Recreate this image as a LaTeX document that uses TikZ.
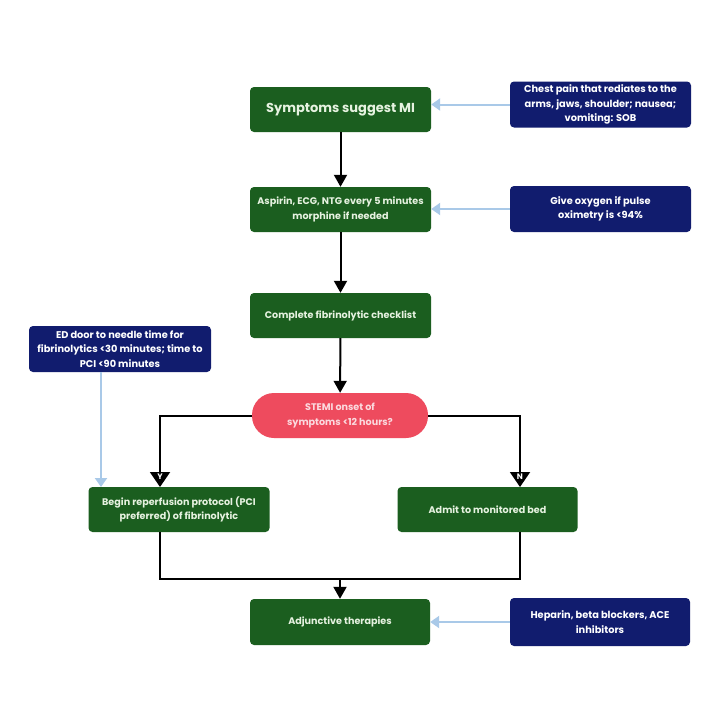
\documentclass[tikz,border=0pt]{standalone}
\usepackage{fontspec}
\setmainfont{Poppins}
\usetikzlibrary{arrows.meta}
\definecolor{gbox}{HTML}{1B5E1F}
\definecolor{bbox}{HTML}{111C6E}
\definecolor{pillc}{HTML}{EE4B5E}
\definecolor{lblue}{HTML}{A9C9E8}
\definecolor{gtext}{HTML}{E6F2E0}
\definecolor{ptext}{HTML}{FBDADF}
\tikzset{
  greenbox/.style={draw=none, fill=gbox, rounded corners=4pt, minimum width=181pt, minimum height=45pt, align=center, text=gtext, font=\bfseries\fontsize{9.6}{14.3}\selectfont, inner sep=1pt},
  bluebox/.style={draw=none, fill=bbox, rounded corners=4pt, minimum width=181pt, minimum height=46pt, align=center, text=white, font=\bfseries\fontsize{9.8}{14.3}\selectfont, inner sep=1pt},
  pillbox/.style={draw=none, fill=pillc, rounded corners=22pt, minimum width=176pt, minimum height=45pt, align=center, text=ptext, font=\bfseries\fontsize{9.6}{15}\selectfont, inner sep=1pt},
  flow/.style={draw=black, line width=2pt, -{Triangle[width=13pt,length=12pt]}},
  flowyn/.style={draw=black, line width=2pt, -{Triangle[width=20pt,length=15pt]}},
  line/.style={draw=black, line width=2pt},
  note/.style={draw=lblue, line width=2pt, -{Triangle[width=12pt,length=9pt]}},
  yn/.style={text=white, font=\bfseries\fontsize{8}{8}\selectfont, inner sep=0pt}
}
\begin{document}
\begin{tikzpicture}[x=1pt,y=-1pt]
\useasboundingbox[fill=white] (0,0) rectangle (720,720);
% main boxes
\node[greenbox, font=\bfseries\fontsize{13}{15}\selectfont] (g1) at (340.5,109.5) {Symptoms suggest MI};
\node[greenbox] (g2) at (340.5,209.5) {Aspirin, ECG, NTG every 5 minutes\\morphine if needed};
\node[greenbox] (g3) at (340.5,315.5) {Complete fibrinolytic checklist};
\node[pillbox] (p) at (340,415.5) {STEMI onset of\\symptoms <12 hours?};
\node[greenbox] (g4) at (179,509.5) {Begin reperfusion protocol (PCI\\preferred) of fibrinolytic};
\node[greenbox, minimum width=180pt] (g5) at (487.5,509.5) {Admit to monitored bed};
\node[greenbox, minimum width=180pt, minimum height=46pt] (g6) at (340,622) {Adjunctive therapies};
% notes
\node[bluebox] (b1) at (600.5,104.5) {Chest pain that rediates to the\\arms, jaws, shoulder; nausea;\\vomiting: SOB};
\node[bluebox] (b2) at (600.5,209) {Give oxygen if pulse\\oximetry is <94\%};
\node[bluebox, minimum width=182pt] (b3) at (120,349) {ED door to needle time for\\fibrinolytics <30 minutes; time to\\PCI <90 minutes};
\node[bluebox, minimum width=180pt, minimum height=48pt] (b6) at (600,622) {Heparin, beta blockers, ACE\\inhibitors};
% coordinates
\coordinate (pl) at (160,415.5);
\coordinate (pr) at (520,415.5);
\coordinate (g4t) at (160,487);
\coordinate (g5t) at (520,487);
\coordinate (g4b) at (160,532);
\coordinate (g5b) at (520,532);
\coordinate (jl) at (160,579);
\coordinate (jr) at (520,579);
\coordinate (jm) at (340,579);
\coordinate (b3b) at (101,372);
\coordinate (g4n) at (101,487);
% main flow
\draw[flow] (g1) -- (g2);
\draw[flow] (g2) -- (g3);
\draw[flow] (g3) -- (p);
\draw[flowyn] (p.west) -- (pl) -- (g4t);
\draw[flowyn] (p.east) -- (pr) -- (g5t);
\node[yn] (ylab) at (160,477) {Y};
\node[yn] (nlab) at (520,477) {N};
\draw[line] (g4b) -- (jl) -- (jr) -- (g5b);
\draw[flow] (jm) -- (g6.north);
% notes arrows
\draw[note] (b1.west) -- (b1.west -| g1.east);
\draw[note] (b2.west) -- (b2.west -| g2.east);
\draw[note] (b3b) -- (g4n);
\draw[note] (b6.west) -- (b6.west -| g6.east);
\end{tikzpicture}
\end{document}
